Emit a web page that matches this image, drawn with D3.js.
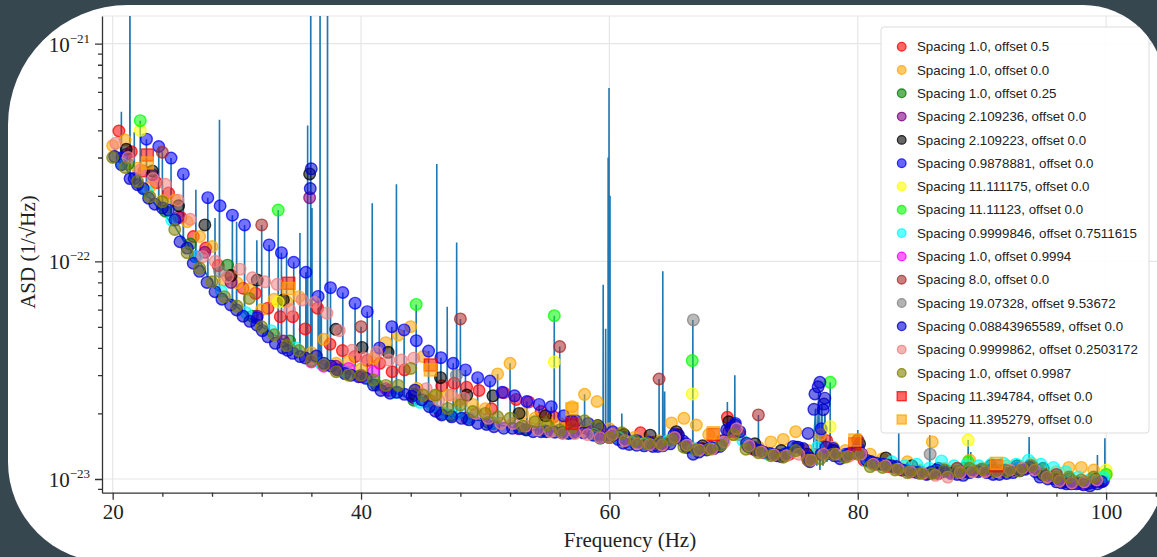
<!DOCTYPE html>
<html>
<head>
<meta charset="utf-8">
<script src="https://cdn.jsdelivr.net/npm/d3@7"></script>
<style>
  body { margin: 0; background: #37474f; }
  svg { display: block; }
</style>
</head>
<body>
<svg width="1157" height="557"></svg>
<script>
var svg = d3.select("svg");
var UNIT = 1e-23; // every ASD value below is in units of 1e-23 1/sqrt(Hz)

// ASD floor, [Hz, asd]
var asdBase = [[20.1,33],[20.5,30],[21,27],[21.5,24],[22,21.7],[23,19.5],[24,17.2],[25,14.5],[26,12.2],[27,10],
  [28,8.2],[29,7.0],[30,6.2],[31,5.5],[32,5.0],[33,4.6],[34,4.35],[35,3.9],[36,3.5],[37,3.35],[38,3.24],[39,3.05],
  [40,2.94],[41,2.75],[42,2.55],[43,2.45],[44,2.31],[45,2.15],[46,2.0],[47,1.95],[48,1.93],[49,1.88],[50,1.85],
  [51,1.78],[52,1.73],[53,1.70],[54,1.68],[55,1.65],[56,1.64],[57,1.63],[58,1.62],[59,1.58],[59.6,1.5],[60.5,1.6],
  [61,1.55],[62,1.5],[63,1.46],[64,1.45],[65,1.55],[65.6,1.64],[66.2,1.45],[66.8,1.36],[68,1.37],[69,1.45],
  [69.6,1.68],[70.3,1.78],[71,1.45],[72,1.33],[73,1.29],[74,1.26],[75,1.36],[76,1.22],[76.4,1.3],[76.6,2.1],
  [76.7,1.15],[76.85,2.5],[76.95,1.1],[77.1,2.2],[77.2,1.15],[77.35,2.0],[77.5,1.2],[78,1.36],[79,1.26],[80,1.36],
  [81,1.18],[82,1.16],[83,1.12],[84,1.08],[85,1.07],[86,1.07],[87,1.08],[88,1.08],[89,1.09],[90,1.10],[91,1.10],
  [92,1.10],[93,1.12],[94,1.16],[95,1.04],[96,0.99],[97,0.97],[98,0.96],[99,0.98],[99.95,1.0]];

// narrow lines in the ASD, [Hz, floor, peak]
var asdLines = [[20.7,30,48.6],[21.39,25,400],[21.74,22,39.3],[22.22,21,44.3],[22.72,20,36.4],[23.71,17.5,33.7],
  [24,17,31.7],[24.7,15,29.8],[25.69,12.5,25.2],[26.7,10,21.3],[27.66,8.5,19.6],[28.24,7.5,15.8],[28.6,7.3,44.7],
  [29.64,6.4,16.3],[29.98,6.2,15.2],[30.62,5.8,14.7],[31.61,5.2,12.5],[32,5.0,14.7],[32.6,4.8,11.9],[33.33,4.5,17.2],
  [33.59,4.4,10.96],[34,4.35,10.9],[34.58,4.1,9.9],[35.08,3.9,13.5],[35.56,3.7,8.91],[35.7,3.6,42.1],[35.95,3.5,400],
  [36.05,3.5,17.6],[36.55,3.4,6.9],[36.7,3.4,400],[36.8,3.4,6.65],[37.3,3.3,400],[37.54,3.3,7.57],[38.53,3.15,7.19],
  [39.52,3.0,6.42],[40,2.94,5.01],[40.5,2.85,5.87],[40.9,2.78,18.5],[41.47,2.6,5.38],[42.48,2.48,5.01],[42.85,2.46,22.6],
  [43.47,2.4,4.84],[44.44,2.3,6.34],[45.44,2.15,3.87],[46.1,2.0,28],[46.43,1.98,3.61],[46.94,1.95,6.19],[47.42,1.94,3.4],
  [47.7,1.93,12.2],[48,1.93,5.44],[48.41,1.9,3.17],[49.39,1.86,2.92],[50.38,1.83,2.82],[51,1.78,3.04],[52,1.73,3.4],
  [52.36,1.72,2.41],[53.35,1.69,2.27],[54.34,1.67,2.2],[55.32,1.65,2.15],[55.56,1.65,5.63],[56,1.64,4.06],[58,1.62,2.45],
  [59.5,1.52,7.8],[59.7,1.5,4.9],[59.9,1.5,30],[59.97,1.5,62.6],[60.05,1.55,20],[61,1.55,2.0],
  [64,1.45,2.88],[64.3,1.45,9.0],[64.45,1.46,2.52],[66.72,1.36,5.38],[69.5,1.6,2.26],[70.1,1.75,3.0],[72,1.33,1.97],
  [77.78,1.3,2.78],[80,1.36,1.68],[83.3,1.12,1.63],[85.8,1.07,1.59],[88.89,1.08,1.51],[89.1,1.09,1.33],[93.8,1.14,1.56],
  [99.3,0.98,1.29],[99.9,1.0,1.54]];

// comb markers, [Hz, asd]
var red10_05 = [[20.5,39.7],[21.5,31.9],[22.5,26],[23.5,23.0],[24.5,20.6],[25.5,15.9],[26.5,13.0],[27.5,11.5],[28.5,9.56],
  [29.5,8.6],[30.5,7.52],[31.5,7.13],[32.5,6.09],[33.5,5.57],[34.5,5.57],[35.5,4.89],[36.5,6.09],[37.5,4.16],[38.5,3.89],
  [39.5,3.65],[40.5,3.5],[41.5,3.4],[42.5,3.11],[43.5,3.17],[44.5,2.6],[45.5,2.3],[46.5,2.68],[47.5,2.75],[48.5,2.64],
  [49.5,2.55],[50.5,2.1],[51.5,2.49],[52.5,2.32],[53.5,2.26],[54.5,2.04],[55.5,1.93],[56.5,1.75],[57.5,1.7],[58.5,1.65],
  [59.5,1.6],[60.5,1.6],[61.5,1.5],[62.5,1.63],[63.5,1.47],[64.5,1.46],[65.5,1.6],[66.5,1.4],[67.5,1.38],[68.5,1.4],
  [69.5,1.92],[70.5,1.6],[71.5,1.38],[72.5,1.32],[73.5,1.29],[74.5,1.3],[75.5,1.36],[76.5,1.3],[77.5,1.5],[78.5,1.28],
  [79.5,1.3],[80.5,1.22],[81.5,1.17],[82.5,1.14],[83.5,1.1],[84.5,1.08],[85.5,1.06],[86.5,1.06],[87.5,1.08],[88.5,1.08],
  [89.5,1.09],[90.5,1.08],[91.5,1.09],[92.5,1.1],[93.5,1.12],[94.5,1.1],[95.5,1.02],[96.5,0.98],[97.5,0.97],[98.5,0.95],[99.5,0.98]];
var orange10_00 = [[20,34],[21,36.1],[22,26.8],[23,22],[24,19],[25,19.1],[26,15.2],[27,13.0],[28,11.7],[29,8.2],[30,7.98],
  [31,7.44],[32,6.0],[33,6.7],[34,6.54],[35,6.88],[36,3.8],[37,4.38],[38,3.4],[39,3.46],[40,3.2],[41,3.59],[42,4.23],
  [43,4.59],[44,5.01],[45,3.65],[46,2.4],[47,2.43],[48,2.3],[49,2.2],[50,2.1],[51,3.04],[52,3.4],[53,2.0],[54,1.9],
  [55,1.85],[56,1.8],[57,2.15],[58,2.45],[59,2.27],[60,1.7],[61,1.6],[62,1.55],[63,1.5],[64,1.5],[65,1.81],[66,1.9],
  [67,1.77],[68,1.6],[69,1.5],[70,1.6],[71,1.45],[72,1.4],[73,1.48],[74,1.52],[75,1.65],[76,1.35],[77,1.6],[78,1.4],
  [79,1.35],[80,1.51],[81,1.3],[82,1.24],[83,1.15],[84,1.2],[85,1.1],[86,1.48],[87,1.12],[88,1.12],[89,1.22],[90,1.12],
  [91,1.12],[92,1.15],[93,1.15],[94,1.18],[95,1.1],[96,1.08],[97,1.13],[98,1.13],[99,1.1],[100,1.05]];
var green10_025 = [[21.25,28],[24.25,17],[26.25,12],[29.25,9.6],[31.25,5.6],[34.25,4.3],[38.25,3.2],[41.25,2.7],[44.25,2.3],
  [47.25,1.96],[50.25,1.82],[53.25,1.69],[56.25,1.63],[59.25,1.54],[62.25,1.48],[66.25,1.4],[71.25,1.4],[76.25,1.22],
  [81.25,1.17],[86.25,1.07],[91.25,1.1],[96.25,0.99]];
var purple2109236 = [[21.09,31],[23.2,25],[25.31,16],[27.42,11],[29.53,8],[31.64,5.6],[33.75,4.3],[35.86,19.6],[37.97,3.3],
  [40.08,2.95],[42.18,2.55],[44.29,2.35],[46.4,2.0],[48.52,1.9],[50.62,1.8],[52.73,1.7],[54.84,1.66],[56.95,1.63],
  [59.06,1.6],[61.17,1.55],[63.28,1.45],[65.39,1.55],[67.5,1.37],[69.61,1.65],[71.72,1.36],[73.83,1.27],[75.93,1.25],
  [78.04,1.35],[80.15,1.33],[82.26,1.15],[84.37,1.08],[86.48,1.06],[88.59,1.08],[90.7,1.1],[92.81,1.1],[94.92,1.05],
  [97.02,0.97],[99.13,0.97]];
var black2109223 = [[21.09,32.7],[23.2,26.0],[25.31,18],[27.42,14.7],[29.53,8.6],[31.64,8.2],[33.75,6.65],[35.86,25.2],
  [37.97,4.87],[40.08,4.02],[42.18,3.82],[44.29,2.45],[46.4,2.92],[48.52,2.43],[50.62,2.41],[52.73,2.0],[54.84,1.95],
  [56.95,1.85],[59.06,1.76],[61.17,1.6],[63.28,1.59],[65.39,1.65],[67.5,1.42],[69.61,1.83],[71.72,1.45],[73.83,1.35],
  [75.93,1.3],[78.04,1.35],[80.15,1.45],[82.26,1.25],[84.37,1.15],[86.48,1.12],[88.59,1.12],[90.7,1.15],[92.81,1.15],
  [94.92,1.12],[97.02,1.0],[99.13,1.0]];
var blue09878881 = [[20.75,30],[21.73,24],[22.72,36.4],[23.71,33.7],[24.7,29.8],[25.69,25.2],[26.67,10.5],[27.66,19.6],
  [28.65,18.0],[29.64,16.3],[30.62,14.7],[31.61,5.5],[32.6,11.9],[33.59,10.96],[34.58,9.9],[35.56,8.91],[36.55,6.9],
  [37.54,7.57],[38.53,7.19],[39.52,6.42],[40.5,5.87],[41.49,4.0],[42.48,5.01],[43.47,4.84],[44.45,4.32],[45.44,3.87],
  [46.43,3.61],[47.42,3.4],[48.41,3.17],[49.39,2.92],[50.38,2.82],[51.37,2.5],[52.36,2.41],[53.35,2.27],[54.34,2.2],
  [55.32,2.15],[56.31,1.95],[57.3,1.85],[58.29,1.8],[59.27,1.7],[60.26,1.65],[61.25,1.55],[62.24,1.5],[63.22,1.47],
  [64.21,1.47],[65.2,1.6],[66.19,1.45],[67.18,1.38],[68.16,1.4],[69.15,1.5],[70.14,1.8],[71.13,1.42],[72.12,1.35],
  [73.11,1.3],[74.09,1.3],[75.08,1.4],[76.07,1.25],[77.06,1.7],[78.04,1.38],[79.03,1.3],[80.02,1.4],[81.01,1.2],
  [82,1.17],[82.98,1.13],[83.97,1.1],[84.96,1.08],[85.95,1.08],[86.93,1.1],[87.92,1.08],[88.91,1.1],[89.9,1.1],
  [90.89,1.1],[91.87,1.1],[92.86,1.12],[93.85,1.15],[94.84,1.05],[95.83,1.0],[96.81,0.97],[97.8,0.96],[98.79,0.96],[99.78,0.98]];
var yellow11111175 = [[22.22,40],[33.33,6.5],[44.44,2.6],[55.56,3.45],[66.67,2.46],[77.78,1.74],[88.89,1.51],[100,1.1]];
var lime11111230 = [[22.22,44.3],[33.33,17.2],[44.44,6.34],[55.56,5.63],[66.67,3.5],[77.78,2.78],[88.89,1.2],[100,1.05]];
var cyan09999846 = [[20.75,28],[22.75,21],[24.75,15.5],[26.75,10.5],[28.75,7.3],[30.75,5.8],[32.75,4.8],[34.75,4.0],
  [36.75,3.4],[38.75,3.1],[40.75,2.85],[42.75,2.5],[44.75,2.25],[45.75,2.15],[46.75,2.0],[47.75,2.0],[48.75,1.9],
  [50.75,1.8],[52.75,1.72],[54.75,1.66],[56.75,1.63],[58.75,1.6],[60.75,1.55],[61.75,1.48],[62.75,1.45],[64.75,1.5],
  [66.75,1.38],[68.75,1.42],[70.75,1.5],[72.75,1.3],[74.75,1.35],[76.75,1.4],[78.75,1.28],[80.75,1.2],[81.75,1.17],
  [82.75,1.2],[83.75,1.15],[84.75,1.17],[85.75,1.12],[86.75,1.21],[87.75,1.15],[88.75,1.16],[89.75,1.15],[90.75,1.17],
  [91.75,1.18],[92.75,1.17],[93.75,1.22],[94.75,1.17],[95.75,1.13],[96.75,1.08],[97.75,1.02],[98.75,1.0],[99.75,1.02]];
var magenta10_09994 = [[36,3.45],[37,3.3],[38,3.2],[39,3.22],[40,2.95],[41,3.11],[42,2.6],[60,1.55],[70,1.65],[76,1.22],
  [80,1.32],[98,0.95]];
var brown80 = [[24,31.7],[32,14.7],[40,5.01],[48,5.44],[56,4.06],[64,2.88],[72,1.97],[80,1.51],[88,1.12],[96,1.05]];
var gray1907328 = [[28.61,9],[47.68,3.0],[66.76,5.38],[85.83,1.3]];
var navy0088 = [[20.16,30.3],[20.7,27.8],[21.4,24],[22.0,22.5],[22.46,21.6],[22.9,19.5],[23.4,18.3],[24.0,17.6],[24.48,17.2],
  [25.02,15.5],[25.42,12.3],[26.0,11.5],[26.49,9.8],[27.0,9.0],[27.6,8.0],[28.24,7.25],[28.8,6.7],[29.5,6.3],[29.98,5.98],
  [30.5,5.6],[31.05,5.3],[31.6,5.1],[32.05,4.8],[32.5,4.5],[33.1,4.2],[33.7,4.0],[34.1,3.9],[34.5,3.78],[35.1,3.65],
  [35.5,3.6],[35.91,21.6],[35.99,26.6],[36.4,3.67],[37.0,3.4],[37.6,3.3],[38.1,3.17],[38.7,3.05],[39.2,3.0],[39.8,2.95],
  [40.4,2.9],[41.0,2.7],[41.6,2.55],[42.33,2.48],[42.9,2.5],[43.5,2.45],[44.1,2.4],[44.34,2.56],[44.9,2.31],[45.5,2.15],
  [46.0,2.05],[46.5,1.97],[47.3,1.93],[48.1,1.9],[48.7,1.87],[49.4,1.8],[50.1,1.78],[50.7,1.74],[51.5,1.71],[52.2,1.71],
  [52.8,1.71],[53.3,1.68],[53.86,1.65],[54.5,1.65],[54.94,1.65],[55.6,1.64],[56.2,1.63],[56.7,1.62],[57.1,1.63],
  [57.9,1.63],[58.7,1.59],[59.3,1.55],[60.31,1.59],[60.7,1.52],[61.11,1.46],[61.6,1.44],[62.19,1.43],[62.8,1.42],
  [63.5,1.41],[63.9,1.41],[64.3,1.42],[64.9,1.45],[65.3,1.55],[65.56,1.59],[65.9,1.5],[66.2,1.4],[66.75,1.30],[67.2,1.33],
  [67.83,1.36],[68.4,1.38],[68.9,1.41],[69.44,1.68],[69.8,1.72],[70.1,1.77],[70.5,1.65],[71.05,1.46],[71.5,1.4],
  [71.85,1.36],[72.4,1.33],[72.92,1.31],[73.5,1.28],[73.86,1.27],[74.4,1.32],[74.8,1.41],[75.2,1.4],[75.6,1.38],
  [76.0,1.62],[76.14,1.20],[76.47,2.09],[76.55,2.46],[76.81,2.65],[76.95,2.78],[77.05,1.3],[77.21,2.08],[77.28,2.21],
  [77.35,2.35],[77.45,1.4],[77.76,1.31],[78.1,1.28],[78.57,1.24],[79.0,1.28],[79.37,1.31],[79.9,1.36],[80.3,1.3],
  [80.7,1.22],[81.1,1.2],[81.5,1.18],[81.9,1.17],[82.3,1.16],[82.7,1.15],[83.1,1.14],[83.6,1.1],[84.2,1.08],[84.8,1.07],
  [85.54,1.05],[85.9,1.07],[86.34,1.1],[86.9,1.08],[87.5,1.06],[88.0,1.05],[88.49,1.04],[89.0,1.07],[89.7,1.08],
  [90.4,1.07],[90.9,1.05],[91.4,1.05],[91.98,1.06],[92.5,1.07],[93.05,1.09],[93.5,1.11],[93.86,1.13],[94.3,1.08],
  [94.66,1.02],[95.3,1.0],[96.0,0.97],[96.4,0.96],[96.81,0.95],[97.2,0.95],[97.61,0.95],[98.2,0.94],[98.7,0.93],
  [99.3,0.95],[99.63,0.97]];
var coral09999862 = [[20.25,34.9],[21.25,30],[22.25,26.3],[23.25,24],[24.25,22.6],[25.25,19.1],[26.25,15.6],[27.25,10.5],
  [28.25,10],[29.25,8.5],[30.25,9.2],[31.25,8.4],[32.25,8.05],[33.25,7.84],[34.25,6.0],[35.25,6.65],[36.25,6.47],
  [37.25,5.78],[38.25,4.8],[39.25,3.9],[40.25,3.6],[41.25,3.82],[42.25,3.52],[43.25,3.52],[44.25,3.59],[45.25,2.6],
  [46.25,2.3],[47.25,2.43],[48.25,2.35],[49.25,2.0],[50.25,1.9],[51.25,1.8],[52.25,1.8],[53.25,1.75],[54.25,1.68],
  [55.25,1.65],[56.25,1.62],[57.25,1.62],[58.25,1.6],[59.25,1.55],[60.25,1.6],[61.25,1.5],[62.25,1.45],[63.25,1.44],
  [64.25,1.43],[65.25,1.55],[66.25,1.43],[67.25,1.36],[68.25,1.37],[69.25,1.48],[70.25,1.7],[71.25,1.42],[72.25,1.33],
  [73.25,1.29],[74.25,1.28],[75.25,1.3],[76.25,1.22],[77.25,1.3],[78.25,1.3],[79.25,1.27],[80.25,1.3],[81.25,1.17],
  [82.25,1.15],[83.25,1.11],[84.25,1.08],[85.25,1.06],[86.25,1.04],[87.25,1.02],[88.25,1.07],[89.25,1.08],[90.25,1.08],
  [91.25,1.08],[92.25,1.1],[93.25,1.12],[94.25,1.1],[95.25,1.02],[96.25,0.98],[97.25,0.96],[98.25,0.97],[99.25,0.99]];
var olive10_09987 = [[20,30],[21,27],[22,23.3],[23,19.8],[24,18.8],[25,14],[26,10.96],[27,9.3],[28,8.05],[29,6.88],[30,6.23],
  [31,6.75],[32,5.0],[33,4.6],[34,4.1],[35,3.89],[36,3.5],[37,3.35],[38,3.11],[39,3.0],[40,3.0],[41,2.85],[42,2.69],
  [43,2.69],[44,3.22],[45,2.43],[46,2.43],[47,2.11],[48,2.19],[49,2.04],[50,2.0],[51,1.93],[52,1.9],[53,1.75],[54,1.83],
  [55,1.77],[56,1.68],[57,1.74],[58,1.85],[59,1.75],[60,1.55],[61,1.63],[62,1.5],[63,1.46],[64,1.47],[65,1.51],[66,1.4],
  [67,1.36],[68,1.37],[69,1.43],[70,1.6],[71,1.37],[72,1.32],[73,1.28],[74,1.26],[75,1.35],[76,1.22],[77,1.24],[78,1.3],
  [79,1.26],[80,1.3],[81,1.14],[82,1.13],[83,1.1],[84,1.07],[85,1.06],[86,1.06],[87,1.1],[88,1.08],[89,1.12],[90,1.11],
  [91,1.09],[92,1.09],[93,1.09],[94,1.15],[95,1.05],[96,1.02],[97,1.02],[98,0.99],[99,1.02]];
var redSq11394784 = [[22.79,30.8],[34.18,7.93],[45.58,3.34],[56.98,1.8],[68.37,1.6],[79.77,1.45],[91.16,1.15]];
var orangeSq11395279 = [[22.79,28.3],[34.18,7.5],[45.58,3.17],[56.98,2.1],[68.37,1.63],[79.77,1.51],[91.16,1.18]];

var series = [
  {label: "Spacing 1.0, offset 0.5", color: "red", square: false, data: red10_05},
  {label: "Spacing 1.0, offset 0.0", color: "orange", square: false, data: orange10_00},
  {label: "Spacing 1.0, offset 0.25", color: "green", square: false, data: green10_025},
  {label: "Spacing 2.109236, offset 0.0", color: "purple", square: false, data: purple2109236},
  {label: "Spacing 2.109223, offset 0.0", color: "black", square: false, data: black2109223},
  {label: "Spacing 0.9878881, offset 0.0", color: "blue", square: false, data: blue09878881},
  {label: "Spacing 11.111175, offset 0.0", color: "yellow", square: false, data: yellow11111175},
  {label: "Spacing 11.11123, offset 0.0", color: "lime", square: false, data: lime11111230},
  {label: "Spacing 0.9999846, offset 0.7511615", color: "cyan", square: false, data: cyan09999846},
  {label: "Spacing 1.0, offset 0.9994", color: "magenta", square: false, data: magenta10_09994},
  {label: "Spacing 8.0, offset 0.0", color: "brown", square: false, data: brown80},
  {label: "Spacing 19.07328, offset 9.53672", color: "gray", square: false, data: gray1907328},
  {label: "Spacing 0.08843965589, offset 0.0", color: "mediumblue", square: false, data: navy0088},
  {label: "Spacing 0.9999862, offset 0.2503172", color: "lightcoral", square: false, data: coral09999862},
  {label: "Spacing 1.0, offset 0.9987", color: "olive", square: false, data: olive10_09987},
  {label: "Spacing 11.394784, offset 0.0", color: "red", square: true, data: redSq11394784},
  {label: "Spacing 11.395279, offset 0.0", color: "orange", square: true, data: orangeSq11395279}
];

// white card with its own corner radii (tl, tr, br, bl)
function cardPath(x0, y0, x1, y1, tl, tr, br, bl) {
  return "M" + (x0 + tl) + "," + y0 +
    "H" + (x1 - tr) + "A" + tr + "," + tr + " 0 0 1 " + x1 + "," + (y0 + tr) +
    "V" + (y1 - br) + "A" + br + "," + br + " 0 0 1 " + (x1 - br) + "," + y1 +
    "H" + (x0 + bl) + "A" + bl + "," + bl + " 0 0 1 " + x0 + "," + (y1 - bl) +
    "V" + (y0 + tl) + "A" + tl + "," + tl + " 0 0 1 " + (x0 + tl) + "," + y0 + "Z";
}
var card = cardPath(8, 5, 1165, 562, 120, 82, 95, 100);
svg.append("clipPath").attr("id", "cardclip").append("path").attr("d", card);
svg.append("path").attr("d", card).attr("fill", "white");
var root = svg.append("g").attr("clip-path", "url(#cardclip)");

var pLeft = 102, pRight = 1162, pTop = 16, pBottom = 492.7;
var x = d3.scaleLinear().domain([19.14, 104.5]).range([pLeft, pRight]);
var y = d3.scaleLog().domain([0.865e-23, 1.34e-21]).range([pBottom, pTop]);

function isMajorY(d) { var l = Math.log10(d); return Math.abs(l - Math.round(l)) < 1e-6; }

// grid
var grid = root.append("g").attr("stroke", "#e6e6e6").attr("stroke-width", 1.2);
grid.selectAll("line.gx").data([20, 40, 60, 80, 100]).enter().append("line")
  .attr("x1", d => x(d)).attr("x2", d => x(d)).attr("y1", pTop).attr("y2", pBottom);
grid.selectAll("line.gy").data([1e-23, 1e-22, 1e-21]).enter().append("line")
  .attr("x1", pLeft).attr("x2", pRight).attr("y1", d => y(d)).attr("y2", d => y(d));
grid.append("line").attr("x1", pLeft).attr("x2", pRight).attr("y1", pTop).attr("y2", pTop);

svg.append("clipPath").attr("id", "plotclip").append("rect")
  .attr("x", pLeft).attr("y", pTop).attr("width", pRight - pLeft).attr("height", pBottom - pTop);

// ASD line: floor plus narrow lines
var asdPoints = asdBase.map(d => [d[0], d[1]]);
asdLines.forEach(function(s) {
  asdPoints.push([s[0] - 0.012, s[1]], [s[0], s[2]], [s[0] + 0.012, s[1]]);
});
asdPoints.sort((a, b) => a[0] - b[0]);

var plot = root.append("g").attr("clip-path", "url(#plotclip)");
plot.append("path")
  .attr("d", d3.line().x(d => x(d[0])).y(d => y(d[1] * UNIT))(asdPoints))
  .attr("fill", "none").attr("stroke", "#1f77b4").attr("stroke-width", 1.6);

// markers
series.forEach(function(s) {
  var g = plot.append("g")
    .attr("fill", s.color).attr("fill-opacity", 0.55)
    .attr("stroke", s.color).attr("stroke-opacity", 0.75).attr("stroke-width", 1.4);
  if (s.square) {
    g.selectAll("rect").data(s.data).enter().append("rect")
      .attr("x", d => x(d[0]) - 6).attr("y", d => y(d[1] * UNIT) - 6)
      .attr("width", 12).attr("height", 12);
  } else {
    g.selectAll("circle").data(s.data).enter().append("circle")
      .attr("cx", d => x(d[0])).attr("cy", d => y(d[1] * UNIT)).attr("r", 5.8);
  }
});

// axes
var xAxis = d3.axisBottom(x).tickValues(d3.range(20, 105, 4)).tickSizeOuter(0)
  .tickFormat(d => d % 20 === 0 ? d : "");
var gx = root.append("g").attr("transform", "translate(0," + pBottom + ")").call(xAxis);
gx.select(".domain").attr("stroke", "#333").attr("stroke-width", 1.3);
gx.selectAll(".tick line").attr("stroke", "#333").attr("stroke-width", 1.3)
  .attr("y2", d => d % 20 === 0 ? 7 : 4);
gx.selectAll(".tick text").attr("y", 11).attr("dy", "0.71em")
  .attr("font-family", "Liberation Serif, serif").attr("font-size", 21).attr("fill", "#222");

var yAxis = d3.axisLeft(y).tickFormat("").tickSizeOuter(0);
var gy = root.append("g").attr("transform", "translate(" + pLeft + ",0)").call(yAxis);
gy.select(".domain").attr("stroke", "#333").attr("stroke-width", 1.3);
gy.selectAll(".tick line").attr("stroke", "#333").attr("stroke-width", 1.3)
  .attr("x2", d => isMajorY(d) ? -7 : -4);

var ylab = root.append("g").selectAll("text").data([1e-23, 1e-22, 1e-21]).enter().append("text")
  .attr("x", 90).attr("y", d => y(d) + 8).attr("text-anchor", "end")
  .attr("font-family", "Liberation Serif, serif").attr("fill", "#222");
ylab.append("tspan").attr("font-size", 21).text("10");
ylab.append("tspan").attr("font-size", 13).attr("dy", -9).text(d => "\u2212" + Math.round(-Math.log10(d)));

root.append("text").attr("x", 630).attr("y", 547).attr("text-anchor", "middle")
  .attr("font-family", "Liberation Serif, serif").attr("font-size", 21).attr("fill", "#222")
  .text("Frequency (Hz)");
root.append("text").attr("transform", "translate(35,252) rotate(-90)").attr("text-anchor", "middle")
  .attr("font-family", "Liberation Serif, serif").attr("font-size", 21).attr("fill", "#222")
  .text("ASD (1/\u221AHz)");

// legend
var lg = root.append("g");
lg.append("rect").attr("x", 881).attr("y", 27).attr("width", 268).attr("height", 406).attr("rx", 3)
  .attr("fill", "white").attr("fill-opacity", 0.9).attr("stroke", "#dddddd");
var item = lg.selectAll("g.item").data(series).enter().append("g")
  .attr("transform", (d, i) => "translate(901.7," + (46.7 + i * 23.3) + ")");
item.each(function(d) {
  var g = d3.select(this);
  var m = d.square
    ? g.append("rect").attr("x", -4.5).attr("y", -4.5).attr("width", 9).attr("height", 9)
    : g.append("circle").attr("r", 4.3);
  m.attr("fill", d.color).attr("fill-opacity", 0.6)
    .attr("stroke", d.color).attr("stroke-opacity", 0.8).attr("stroke-width", 1.3);
});
item.append("text").attr("x", 15.3).attr("dy", "0.35em")
  .attr("font-family", "Liberation Sans, Arial, sans-serif").attr("font-size", 13.3).attr("fill", "#222")
  .text(d => d.label);
</script>
</body>
</html>
